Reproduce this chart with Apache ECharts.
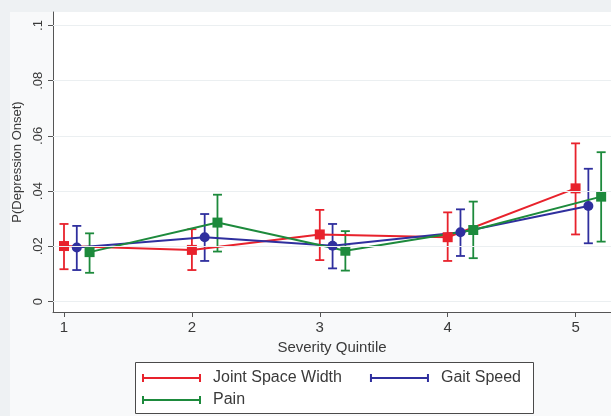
<!DOCTYPE html>
<html>
<head>
<meta charset="utf-8">
<script src="https://cdn.jsdelivr.net/npm/echarts@6/dist/echarts.min.js"></script>
<style>
  html, body { margin: 0; padding: 0; background: #eef1f3; }
  #chart { width: 611px; height: 416px; }
</style>
</head>
<body>
<div id="chart"></div>
<script>
// Severity quintiles on the x axis
const quintiles = [1, 2, 3, 4, 5];

// Predicted probability of depression onset with 95% confidence limits
const jswEst  = [0.0201, 0.0187, 0.0243, 0.0233, 0.0410];
const jswLo   = [0.0117, 0.0114, 0.0150, 0.0147, 0.0243];
const jswHi   = [0.0281, 0.0262, 0.0332, 0.0323, 0.0573];

const gaitEst = [0.0196, 0.0233, 0.0202, 0.0251, 0.0346];
const gaitLo  = [0.0114, 0.0147, 0.0120, 0.0165, 0.0211];
const gaitHi  = [0.0274, 0.0317, 0.0281, 0.0334, 0.0481];

const painEst = [0.0179, 0.0286, 0.0184, 0.0259, 0.0380];
const painLo  = [0.0104, 0.0181, 0.0112, 0.0157, 0.0217];
const painHi  = [0.0247, 0.0387, 0.0255, 0.0362, 0.0541];

// Axis ticks
const xTicks = [1, 2, 3, 4, 5];
const yTicks = [0, 0.02, 0.04, 0.06, 0.08, 0.1];
const yTickLabels = ['0', '.02', '.04', '.06', '.08', '.1'];

const FONT = '"Liberation Sans", Arial, sans-serif';
const COLORS = { jsw: '#e8222c', gait: '#2f2f9e', pain: '#1d8a3c' };

// Cap-ended legend key, like a sideways error bar
const KEY_ICON = 'path://M0,0h2v8h-2z M57,0h2v8h-2z M0,3h59v2h-59z';

function pointSeries(name, color, est, dodge, symbol) {
  return {
    type: 'line',
    name: name,
    data: quintiles.map((q, i) => [q + dodge, est[i]]),
    symbol: symbol,
    symbolSize: 10,
    showSymbol: true,
    itemStyle: { color: color },
    lineStyle: { color: color, width: 2 },
    emphasis: { disabled: true },
    z: 3
  };
}

function errorBarSeries(name, color, lo, hi, dodge) {
  return {
    type: 'custom',
    name: name + ' CI',
    silent: true,
    data: quintiles.map((q, i) => [q + dodge, lo[i], hi[i]]),
    encode: { x: 0, y: [1, 2] },
    z: 2,
    renderItem: function (params, api) {
      const x = api.value(0);
      const a = api.coord([x, api.value(1)]);
      const b = api.coord([x, api.value(2)]);
      const w = 4.5;
      const style = { stroke: color, lineWidth: 1.8, fill: null };
      return {
        type: 'group',
        children: [
          { type: 'line', shape: { x1: a[0], y1: a[1], x2: b[0], y2: b[1] }, style: style },
          { type: 'line', shape: { x1: a[0] - w, y1: a[1], x2: a[0] + w, y2: a[1] }, style: style },
          { type: 'line', shape: { x1: b[0] - w, y1: b[1], x2: b[0] + w, y2: b[1] }, style: style }
        ]
      };
    }
  };
}

const legendBase = {
  orient: 'horizontal',
  left: 142,
  padding: 0,
  icon: KEY_ICON,
  itemWidth: 59,
  itemHeight: 8,
  itemGap: 28,
  selectedMode: false,
  textStyle: { fontFamily: FONT, fontSize: 16, color: '#3a3a3a', padding: [0, 0, 0, 7] }
};

const chart = echarts.init(document.getElementById('chart'), null, { renderer: 'canvas' });

chart.setOption({
  animation: false,
  backgroundColor: '#eef1f3',
  graphic: [
    { type: 'rect', left: 10, top: 12, shape: { width: 601, height: 404 },
      style: { fill: '#f8f9fa' }, z: -10, silent: true },
    { type: 'rect', left: 135, top: 362, shape: { width: 398, height: 51 },
      style: { fill: '#ffffff', stroke: '#4a4a4a', lineWidth: 1 }, z: -5, silent: true }
  ],
  grid: {
    left: 53, right: 0, top: 12, bottom: 104,
    show: true, backgroundColor: '#ffffff', borderWidth: 0
  },
  legend: [
    Object.assign({}, legendBase, { top: 370, data: ['Joint Space Width', 'Gait Speed'] }),
    Object.assign({}, legendBase, { top: 392, data: ['Pain'] })
  ],
  xAxis: {
    type: 'value',
    min: 0.914,
    max: 5.277,
    name: 'Severity Quintile',
    nameLocation: 'middle',
    nameGap: 27,
    nameTextStyle: { fontFamily: FONT, fontSize: 15, color: '#3a3a3a' },
    axisLine: { show: true, onZero: false, lineStyle: { color: '#555', width: 1 } },
    axisTick: { show: true, customValues: xTicks, length: 5, lineStyle: { color: '#555' } },
    axisLabel: { customValues: xTicks, fontFamily: FONT, fontSize: 15, color: '#3a3a3a', margin: 8 },
    splitLine: { show: false }
  },
  yAxis: {
    type: 'value',
    min: -0.0038,
    max: 0.1049,
    name: 'P(Depression Onset)',
    nameLocation: 'middle',
    nameRotate: 90,
    nameGap: 29,
    nameTextStyle: { fontFamily: FONT, fontSize: 13, color: '#3a3a3a' },
    axisLine: { show: true, onZero: false, lineStyle: { color: '#555', width: 1 } },
    axisTick: { show: true, customValues: yTicks, length: 5, lineStyle: { color: '#555' } },
    axisLabel: {
      customValues: yTicks,
      rotate: 90,
      fontFamily: FONT, fontSize: 13, color: '#3a3a3a', margin: 8,
      formatter: function (v) {
        const i = yTicks.findIndex(t => Math.abs(t - v) < 1e-9);
        return i >= 0 ? yTickLabels[i] : '';
      }
    },
    splitLine: { show: false }
  },
  series: [
    {
      type: 'line', name: 'grid', data: [], silent: true, z: 1,
      markLine: {
        silent: true, symbol: 'none', label: { show: false },
        lineStyle: { color: '#ebeff1', width: 1, type: 'solid' },
        data: yTicks.map(v => ({ yAxis: v }))
      }
    },
    errorBarSeries('Joint Space Width', COLORS.jsw, jswLo, jswHi, 0),
    pointSeries('Joint Space Width', COLORS.jsw, jswEst, 0, 'rect'),
    errorBarSeries('Gait Speed', COLORS.gait, gaitLo, gaitHi, 0.1),
    pointSeries('Gait Speed', COLORS.gait, gaitEst, 0.1, 'circle'),
    errorBarSeries('Pain', COLORS.pain, painLo, painHi, 0.2),
    pointSeries('Pain', COLORS.pain, painEst, 0.2, 'rect')
  ]
});
</script>
</body>
</html>
